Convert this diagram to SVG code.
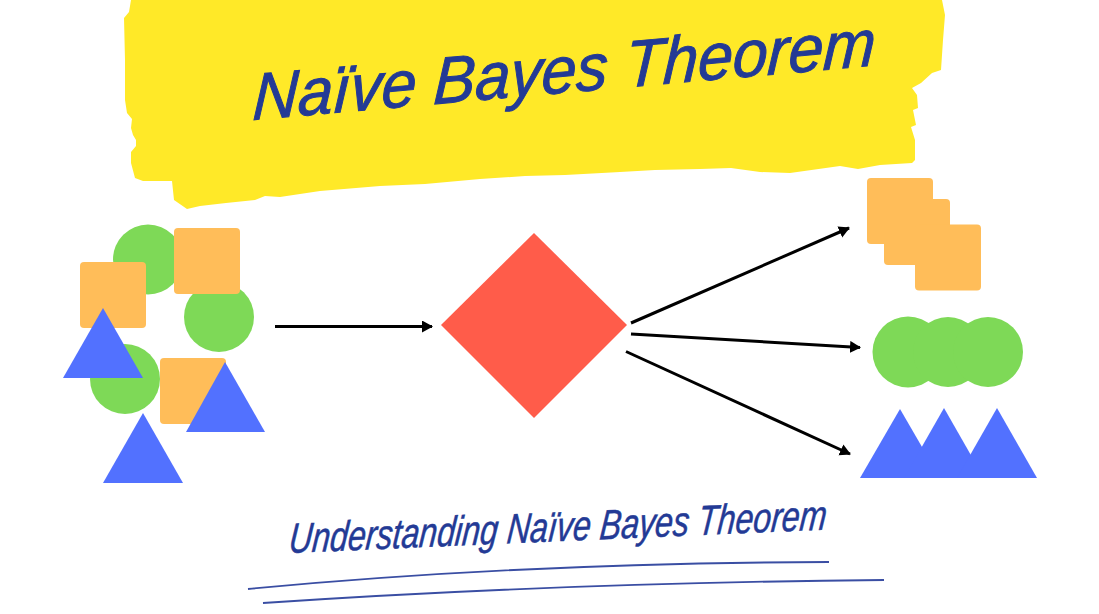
<svg xmlns="http://www.w3.org/2000/svg" width="1099" height="614" viewBox="0 0 1099 614">
<style>
.sq{fill:#ffbd59}
.ci{fill:#7ed957}
.tr{fill:#5271ff}
.ar{stroke:#000;stroke-width:3;fill:none;marker-end:url(#a)}
.t{font-family:"Liberation Sans",Lato,sans-serif;font-style:italic;fill:#233a95}
.u{stroke:#3a4ea3;stroke-width:1.800;fill:none}
</style>
<defs>
<marker id="a" markerUnits="userSpaceOnUse" markerWidth="14" markerHeight="14" refX="10" refY="6" orient="auto"><path d="M0 0L11 6L0 12Z" fill="#000"/></marker>
<rect id="s" width="66" height="66" rx="4"/>
</defs>
<g id="banner">
<path fill="#ffe928" d="M131 0L129 12L124 18L125 60L125 100L127 113L132 119L131 128L133 135L136 140L136 146L131 152L131 163L135 178L143 181L172 181L174 200L187 209L200 206L226 203L255 200L265 196L280 197L320 191L380 186L425 184L480 179L525 176L565 175L620 172L655 170L700 169L731 168L760 172L790 173L840 166L858 169L880 165L912 163L915 160L915 140L911 127L916 125L913 110L918 108L917 95L912 88L921 83L932 73L941 70L943 40L945 15L942 0Z"/>
<text class="t" font-size="66" stroke="#233a95" stroke-width="1" textLength="625" lengthAdjust="spacingAndGlyphs" transform="translate(252 120) rotate(-5) skewX(-8)">Naïve Bayes Theorem</text>
</g>
<g id="input-shapes">
<circle class="ci" cx="148" cy="259.500" r="35"/>
<circle class="ci" cx="219" cy="317" r="35"/>
<circle class="ci" cx="125" cy="379" r="35"/>
<use href="#s" class="sq" x="174" y="228"/>
<use href="#s" class="sq" x="80" y="262"/>
<use href="#s" class="sq" x="160" y="358"/>
<path class="tr" d="M103 308L143 378H63Z"/>
<path class="tr" d="M225 362L265 432H186Z"/>
<path class="tr" d="M143 413L183 483H103Z"/>
</g>
<g id="classifier"><path fill="#ff5c4a" d="M534 233L627 325L534 418L441 325Z"/></g>
<g id="connectors">
<path class="ar" d="M275 326.500H432"/>
<path class="ar" d="M631 323L849 228"/>
<path class="ar" d="M631 334L860 347.500"/>
<path class="ar" d="M626 351.500L850 454"/>
</g>
<g id="squares">
<use href="#s" class="sq" x="884" y="199"/>
<use href="#s" class="sq" x="867" y="178"/>
<use href="#s" class="sq" x="915" y="224.500"/>
</g>
<g id="circles">
<circle class="ci" cx="908" cy="352" r="35.500"/>
<circle class="ci" cx="948" cy="352" r="35"/>
<circle class="ci" cx="988" cy="352" r="35"/>
</g>
<g id="triangles">
<path class="tr" d="M900 409L940 478H860Z"/>
<path class="tr" d="M944 408L984 478H904Z"/>
<path class="tr" d="M997 408L1037 478H957Z"/>
</g>
<g id="caption">
<text class="t" font-size="42" stroke="#233a95" stroke-width=".5" textLength="538" lengthAdjust="spacingAndGlyphs" transform="translate(288 553) rotate(-2.500) skewX(-8)">Understanding Naïve Bayes Theorem</text>
<path class="u" d="M248 589Q520 563 829 562"/>
<path class="u" d="M263 603Q560 583 884 580"/>
</g>
</svg>
